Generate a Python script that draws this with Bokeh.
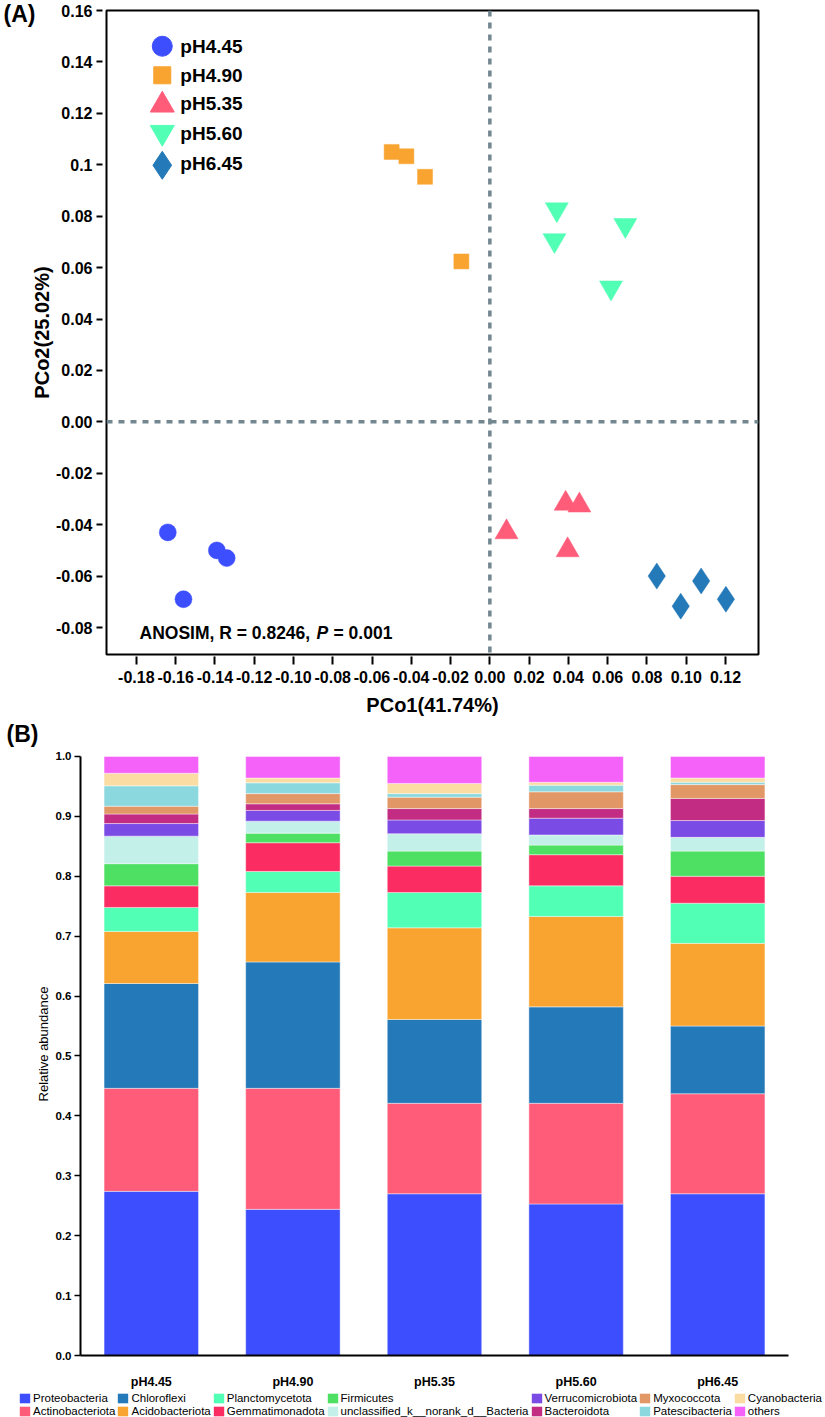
from bokeh.plotting import figure
from bokeh.models import (Range1d, FactorRange, FixedTicker, NumeralTickFormatter, Span, Label,
                          Legend, LegendItem, ColumnDataSource, LinearAxis)
from bokeh.layouts import column
from bokeh.embed import file_html
from bokeh.resources import INLINE
from bokeh.core.properties import value

FONT = "Liberation Sans"

# ---------------- (A) PCoA data ----------------
groups = ["pH4.45", "pH4.90", "pH5.35", "pH5.60", "pH6.45"]
pco1_445 = [-0.164, -0.139, -0.134, -0.156]
pco2_445 = [-0.043, -0.050, -0.053, -0.069]
pco1_490 = [-0.050, -0.0425, -0.033, -0.0145]
pco2_490 = [0.105, 0.1033, 0.0953, 0.0624]
pco1_535 = [0.0386, 0.0456, 0.0085, 0.0396]
pco2_535 = [-0.0318, -0.0325, -0.0429, -0.0499]
pco1_560 = [0.0341, 0.0329, 0.0690, 0.0617]
pco2_560 = [0.0826, 0.0706, 0.0765, 0.0522]
pco1_645 = [0.0850, 0.0972, 0.1076, 0.1202]
pco2_645 = [-0.0600, -0.0717, -0.0619, -0.0690]
x_ticks = [-0.18, -0.16, -0.14, -0.12, -0.10, -0.08, -0.06, -0.04, -0.02, 0.0, 0.02, 0.04, 0.06, 0.08, 0.10, 0.12]
y_ticks = [-0.08, -0.06, -0.04, -0.02, 0.0, 0.02, 0.04, 0.06, 0.08, 0.1, 0.12, 0.14, 0.16]
x_title = "PCo1(41.74%)"
y_title = "PCo2(25.02%)"

# ---------------- (B) relative abundance data ----------------
taxa = ["Proteobacteria", "Actinobacteriota", "Chloroflexi", "Acidobacteriota", "Planctomycetota",
        "Gemmatimonadota", "Firmicutes", "unclassified_k__norank_d__Bacteria", "Verrucomicrobiota",
        "Bacteroidota", "Myxococcota", "Patescibacteria", "Cyanobacteria", "others"]
Proteobacteria = [0.274, 0.244, 0.270, 0.253, 0.270]
Actinobacteriota = [0.172, 0.202, 0.151, 0.168, 0.167]
Chloroflexi = [0.175, 0.211, 0.140, 0.161, 0.113]
Acidobacteriota = [0.087, 0.116, 0.153, 0.151, 0.138]
Planctomycetota = [0.040, 0.035, 0.059, 0.051, 0.067]
Gemmatimonadota = [0.036, 0.048, 0.044, 0.052, 0.045]
Firmicutes = [0.037, 0.016, 0.025, 0.016, 0.042]
unclassified = [0.046, 0.020, 0.029, 0.017, 0.023]
Verrucomicrobiota = [0.021, 0.018, 0.023, 0.028, 0.028]
Bacteroidota = [0.016, 0.011, 0.019, 0.016, 0.037]
Myxococcota = [0.013, 0.017, 0.019, 0.028, 0.023]
Patescibacteria = [0.034, 0.018, 0.006, 0.011, 0.004]
Cyanobacteria = [0.021, 0.008, 0.017, 0.005, 0.007]
others = [0.028, 0.036, 0.045, 0.043, 0.036]
abund_ticks = [0.0, 0.1, 0.2, 0.3, 0.4, 0.5, 0.6, 0.7, 0.8, 0.9, 1.0]

taxa_colors = ["#3D4EFF", "#FF5C7A", "#2479B8", "#F9A431", "#51FFB5", "#FA2C62", "#4EE062",
               "#C4F0EA", "#7B4BE6", "#C22C82", "#E29766", "#8CD8DF", "#FBDDA4", "#F562F9"]
group_colors = ["#3D4EFF", "#F9A431", "#FF5C7A", "#51FFB5", "#2479B8"]
group_markers = ["circle", "square", "triangle", "inverted_triangle", "diamond"]
marker_sizes = [17, 15, 23, 23, 26]
legend_marker_sizes = [20, 17, 24, 24, 28]

W = 825


def panel_letter_axis(letter, at):
    """A tick-less extra left axis whose single label is the panel letter."""
    ax = LinearAxis(ticker=FixedTicker(ticks=[at]), major_label_overrides={at: letter})
    ax.axis_line_color = None
    ax.major_tick_line_color = None
    ax.minor_tick_line_color = None
    ax.major_tick_in = 0
    ax.major_tick_out = 0
    ax.major_label_text_font = FONT
    ax.major_label_text_font_style = "bold"
    ax.major_label_text_font_size = "23px"
    ax.major_label_text_color = "black"
    return ax


# ======================= figure A =======================
p1 = figure(width=W, height=718, x_range=Range1d(-0.1952, 0.1368), y_range=Range1d(-0.0905, 0.16),
            output_backend="svg", toolbar_location=None, frame_align=False,
            min_border_left=104, min_border_right=67, min_border_top=10, min_border_bottom=63)
p1.grid.visible = False
p1.outline_line_color = "black"
p1.outline_line_width = 2
p1.outline_line_alpha = 1.0

xs = [pco1_445, pco1_490, pco1_535, pco1_560, pco1_645]
ys = [pco2_445, pco2_490, pco2_535, pco2_560, pco2_645]

p1.add_layout(Span(location=0, dimension="height", line_color="#72878F", line_width=3.5, line_dash="6 6"))
p1.add_layout(Span(location=0, dimension="width", line_color="#72878F", line_width=3.5, line_dash="6 6"))

for gx, gy, c, m, s in zip(xs, ys, group_colors, group_markers, marker_sizes):
    p1.scatter(gx, gy, marker=m, size=s, fill_color=c, line_color=c, line_width=0.5)

# manual legend (placement in the frame's data space)
leg_marker_x = -0.1668
leg_text_x = -0.1576
leg_marker_y = [0.1461, 0.1348, 0.1232, 0.1126, 0.0998]
leg_text_y = [0.1461, 0.1348, 0.1238, 0.1122, 0.1005]
for yy, c, m, s in zip(leg_marker_y, group_colors, group_markers, legend_marker_sizes):
    p1.scatter([leg_marker_x], [yy], marker=m, size=s, fill_color=c, line_color=c)
p1.text(x=[leg_text_x] * len(groups), y=leg_text_y, text=groups, text_font=value(FONT),
        text_font_style="bold", text_font_size="19px", text_baseline="middle", text_color="black")

xa = p1.xaxis[0]
ya = p1.yaxis[0]
xa.ticker = FixedTicker(ticks=x_ticks)
xa.formatter = NumeralTickFormatter(format="0.00")
ya.ticker = FixedTicker(ticks=y_ticks)
ya.formatter = NumeralTickFormatter(format="0.00")
ya.major_label_overrides = {0.1: "0.1"}
for ax in (xa, ya):
    ax.axis_line_color = None
    ax.minor_tick_line_color = None
    ax.major_tick_line_color = "black"
    ax.major_tick_line_width = 2
    ax.major_label_text_font = FONT
    ax.major_label_text_font_style = "bold"
    ax.major_label_text_font_size = "16px"
    ax.major_label_text_color = "black"
    ax.axis_label_text_font = FONT
    ax.axis_label_text_font_style = "bold"
    ax.axis_label_text_font_size = "20px"
    ax.axis_label_text_color = "black"
xa.major_tick_in = -2
xa.major_tick_out = 10
xa.major_label_standoff = 6
xa.axis_label = x_title
xa.axis_label_standoff = 8
ya.major_tick_in = -4
ya.major_tick_out = 10
ya.major_label_standoff = 4
ya.axis_label = y_title
ya.axis_label_standoff = 0

axA = panel_letter_axis("(A)", 0.159)
axA.major_label_standoff = -7
p1.add_layout(axA, "left")

p1.add_layout(Label(x=33, y=22, x_units="screen", y_units="screen", text="ANOSIM, R = 0.8246,",
                    text_font=FONT, text_font_style="bold", text_font_size="17.5px",
                    text_baseline="middle", text_color="black"))
p1.add_layout(Label(x=210, y=22, x_units="screen", y_units="screen", text="P",
                    text_font=FONT, text_font_style="bold italic", text_font_size="17.5px",
                    text_baseline="middle", text_color="black"))
p1.add_layout(Label(x=227, y=22, x_units="screen", y_units="screen", text="= 0.001",
                    text_font=FONT, text_font_style="bold", text_font_size="17.5px",
                    text_baseline="middle", text_color="black"))

# ======================= figure B =======================
src = ColumnDataSource(dict(group=groups, **{
    "Proteobacteria": Proteobacteria, "Actinobacteriota": Actinobacteriota, "Chloroflexi": Chloroflexi,
    "Acidobacteriota": Acidobacteriota, "Planctomycetota": Planctomycetota,
    "Gemmatimonadota": Gemmatimonadota, "Firmicutes": Firmicutes,
    "unclassified_k__norank_d__Bacteria": unclassified, "Verrucomicrobiota": Verrucomicrobiota,
    "Bacteroidota": Bacteroidota, "Myxococcota": Myxococcota, "Patescibacteria": Patescibacteria,
    "Cyanobacteria": Cyanobacteria, "others": others}))

p2 = figure(width=W, height=673, x_range=FactorRange(*groups), y_range=Range1d(0, 1.04),
            output_backend="svg", toolbar_location=None, frame_align=False,
            min_border_left=80, min_border_right=37, min_border_top=14, min_border_bottom=35)
p2.grid.visible = False
p2.outline_line_color = None
p2.vbar_stack(taxa, x="group", width=0.667, source=src, fill_color=taxa_colors,
              line_color="white", line_width=0.6, line_alpha=0.7)

xb = p2.xaxis[0]
yb = p2.yaxis[0]
yb.ticker = FixedTicker(ticks=abund_ticks)
yb.formatter = NumeralTickFormatter(format="0.0")
yb.bounds = (0, 1)
for ax in (xb, yb):
    ax.axis_line_color = "black"
    ax.axis_line_width = 2
    ax.minor_tick_line_color = None
    ax.major_label_text_font = FONT
    ax.major_label_text_font_style = "bold"
    ax.major_label_text_color = "black"
xb.major_tick_line_color = None
xb.major_label_text_font_size = "12.5px"
xb.major_label_standoff = 13
yb.major_tick_line_color = "black"
yb.major_tick_line_width = 1.5
yb.major_tick_in = 0
yb.major_tick_out = 6
yb.major_label_text_font_size = "11.5px"
yb.major_label_standoff = 3
yb.axis_label = "Relative abundance"
yb.axis_label_text_font = FONT
yb.axis_label_text_font_style = "normal"
yb.axis_label_text_font_size = "13px"
yb.axis_label_text_color = "black"
yb.axis_label_standoff = 2

axB = panel_letter_axis("(B)", 1.038)
axB.major_label_standoff = -6
p2.add_layout(axB, "left")

# ======================= legend strip =======================
p3 = figure(width=W, height=26, x_range=FactorRange(*groups), y_range=Range1d(2, 3),
            output_backend="svg", toolbar_location=None, x_axis_location=None, y_axis_location=None,
            min_border=0, frame_align=False)
p3.grid.visible = False
p3.outline_line_color = None
rs = p3.vbar_stack(taxa, x="group", width=0.667, source=src, fill_color=taxa_colors, line_color=None)
legend = Legend(items=[LegendItem(label=t, renderers=[r]) for t, r in zip(taxa, rs)],
                location=(18, 0), orientation="vertical", nrows=2,
                glyph_width=13, glyph_height=12, label_height=12, label_width=10, label_standoff=2,
                spacing=1, padding=0, margin=0, border_line_color=None, background_fill_alpha=0,
                label_text_font=FONT, label_text_font_size="11.5px", label_text_color="black",
                label_text_baseline="middle")
p3.add_layout(legend, "center")

layout = column(p1, p2, p3, spacing=0)
open("out.html", "w").write(file_html(layout, INLINE))
